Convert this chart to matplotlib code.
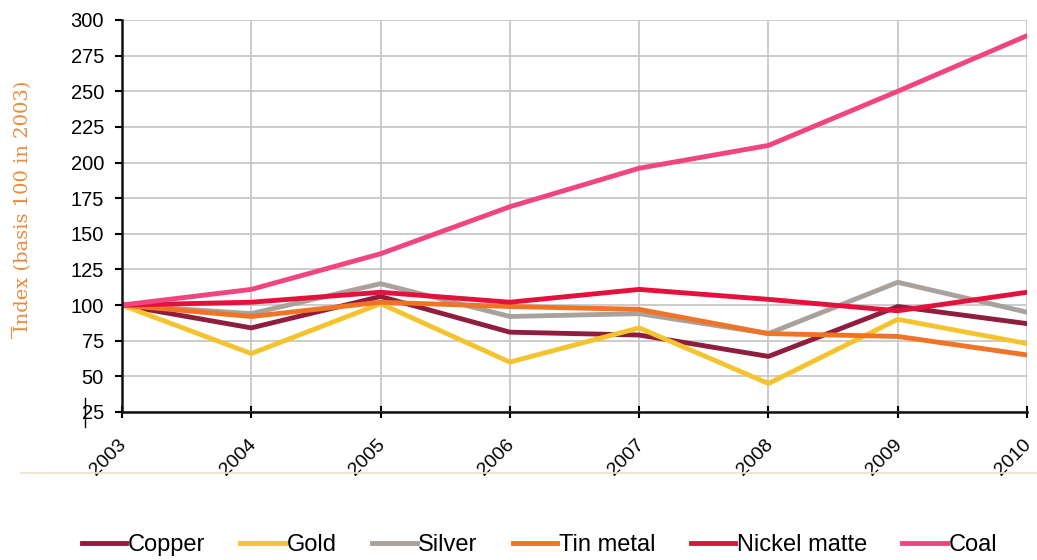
import matplotlib
import matplotlib.pyplot as plt
import matplotlib.transforms as mtransforms
from matplotlib.lines import Line2D

matplotlib.use("Agg")

years = ["2003", "2004", "2005", "2006", "2007", "2008", "2009", "2010"]
copper = [100, 84, 106, 81, 79, 64, 99, 87]
gold = [100, 66, 101, 60, 84, 45, 90, 73]
silver = [100, 94, 115, 92, 94, 80, 116, 95]
tin_metal = [100, 92, 102, 99, 97, 80, 78, 65]
nickel_matte = [100, 102, 109, 102, 111, 104, 96, 109]
coal = [100, 111, 136, 169, 196, 212, 250, 289]

series = [
    ("Copper", copper, "#8e1d3e"),
    ("Gold", gold, "#f4c430"),
    ("Silver", silver, "#a9a19b"),
    ("Tin metal", tin_metal, "#f07425"),
    ("Nickel matte", nickel_matte, "#e5103c"),
    ("Coal", coal, "#f0457f"),
]

plt.rcParams["font.family"] = ["Liberation Sans", "DejaVu Sans"]

fig = plt.figure(figsize=(10.37, 5.6), dpi=100)
ax = fig.add_axes([0.1176, 0.2643, 0.8728, 0.7])

x = list(range(len(years)))
for name, vals, col in series:
    ax.plot(x, vals, color=col, lw=2.6, label=name)

ax.set_xlim(0, len(years) - 1)
ax.set_ylim(25, 300)
ax.set_yticks(range(25, 301, 25))
ax.set_xticks(x)
ax.set_xticklabels(years, rotation=45, ha="right", va="top",
                   rotation_mode="anchor", fontsize=14)
ax.tick_params(axis="y", labelsize=14.5, length=5, width=1.5, pad=8)
ax.tick_params(axis="x", direction="inout", length=9, width=1.5, pad=13)
shift = mtransforms.ScaledTranslation(-4 / 100, 0, fig.dpi_scale_trans)
for lbl in ax.get_xticklabels():
    lbl.set_transform(lbl.get_transform() + shift)
ax.grid(True, color="#c8c8c8", lw=1.3)
ax.set_axisbelow(True)
for s in ["top", "right"]:
    ax.spines[s].set_visible(False)
for s in ["left", "bottom"]:
    ax.spines[s].set_linewidth(1.8)
    ax.spines[s].set_color("#111111")

fig.text(0.022, 0.632, "Index (basis 100 in 2003)", rotation=90,
         family="DejaVu Serif", color="#e98a3c", fontsize=14,
         ha="center", va="center")
fig.add_artist(Line2D([0.0106, 0.0106], [0.396, 0.416], color="#e98a3c", lw=0.8))
fig.add_artist(Line2D([0.082, 0.082], [0.2375, 0.289], color="black", lw=1))

# separator line above legend
fig.add_artist(Line2D([0.02, 1.0], [1 - 473 / 560] * 2, color="#ece3cc", lw=1.2))

handles, labels = ax.get_legend_handles_labels()
for h in handles:
    h.set_linewidth(3.5)
fig.legend(handles, labels, loc="center", bbox_to_anchor=(0.52, 1 - 545 / 560),
           ncol=6, frameon=False, fontsize=17, handlelength=1.9,
           handletextpad=0.05, columnspacing=1.5)

fig.savefig("out.png", dpi=100)
